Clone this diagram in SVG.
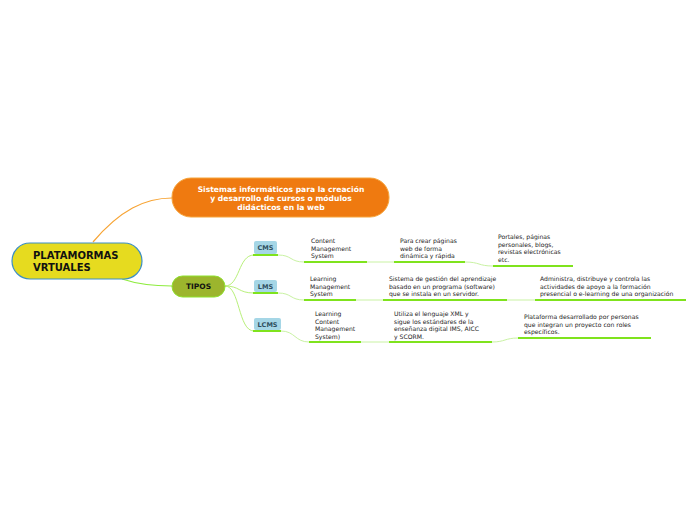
<svg xmlns="http://www.w3.org/2000/svg" width="696" height="520" viewBox="0 0 696 520">
<style>
.t{font-family:"DejaVu Sans",Verdana,sans-serif;font-size:6.1px;fill:#222}
.tb{font-family:"DejaVu Sans",Verdana,sans-serif;font-weight:bold}
.ul{stroke:#7fe31d;stroke-width:2;fill:none}
.ln{stroke:#c9f2a3;stroke-width:1;fill:none}
.br{stroke:#b8f07a;stroke-width:1;fill:none}
.sub{fill:#a5d6e6}
.subt{font-family:"DejaVu Sans",Verdana,sans-serif;font-weight:bold;font-size:6.5px;fill:#2f4f5f}
</style>
<rect width="696" height="520" fill="#fff"/>
<g id="connectors">
<path d="M93,242 C120,210 145,198 172,198" stroke="#f7a434" stroke-width="1.2" fill="none"/>
<path d="M122,279 C140,285 155,286 172,286" stroke="#8eec3e" stroke-width="1.2" fill="none"/>
<path class="br" d="M225,286 C240,286 238,255 254,255"/>
<path class="br" d="M225,286 C240,286 238,293 254,293"/>
<path class="br" d="M225,286 C240,286 238,331 254,331"/>
<path class="ln" d="M278,255 C292,255 290,262 304,262"/>
<path class="ln" d="M367,262 L394,262"/>
<path class="ln" d="M465,262 C480,262 478,266 493,266"/>
<path class="ln" d="M278,293 C292,293 290,300 304,300"/>
<path class="ln" d="M356,300 L383,300"/>
<path class="ln" d="M507,300 L535,300"/>
<path class="ln" d="M281,331 C295,331 295,342 309,342"/>
<path class="ln" d="M361,342 L389,342"/>
<path class="ln" d="M492,342 C505,342 505,338 518,338"/>
</g>
<g id="main">
<rect x="12" y="243" width="130" height="36" rx="18" fill="#e6db1f" stroke="#3d8fc6" stroke-width="1.2"/>
<text class="tb" font-size="10" fill="#111"><tspan x="33" y="259">PLATAMORMAS</tspan><tspan x="33" y="271">VRTUALES</tspan></text>
</g>
<g id="sistemas">
<rect x="172" y="178" width="217" height="39" rx="19" fill="#ef7a10" stroke="#f6a43a" stroke-width="1"/>
<text class="tb" font-size="7.6" fill="#fff" text-anchor="middle"><tspan x="281" y="192">Sistemas informáticos para la creación</tspan><tspan x="281" y="201">y desarrollo de cursos o módulos</tspan><tspan x="281" y="210">didácticos en la web</tspan></text>
</g>
<g id="tipos">
<rect x="172" y="276" width="53" height="21" rx="10.5" fill="#9cb52d" stroke="#8ee22c" stroke-width="1"/>
<text class="tb" font-size="7.5" fill="#111" text-anchor="middle" x="198.5" y="289">TIPOS</text>
</g>
<g id="cms">
<rect class="sub" x="254" y="241" width="23" height="13" rx="2"/>
<path class="ul" d="M253,255 L278,255"/>
<text class="subt" x="265.5" y="250" text-anchor="middle">CMS</text>
</g>
<g id="lms">
<rect class="sub" x="254" y="280" width="23" height="12" rx="2"/>
<path class="ul" d="M253,293 L278,293"/>
<text class="subt" x="265.5" y="289" text-anchor="middle">LMS</text>
</g>
<g id="lcms">
<rect class="sub" x="254" y="318" width="27" height="12" rx="2"/>
<path class="ul" d="M253,331 L281,331"/>
<text class="subt" x="267.5" y="327" text-anchor="middle">LCMS</text>
</g>
<g id="cms-def">
<text class="t"><tspan x="311" y="243">Content</tspan><tspan x="311" y="250.5">Management</tspan><tspan x="311" y="258">System</tspan></text>
<path class="ul" d="M304,262 L367,262"/>
</g>
<g id="cms-desc">
<text class="t"><tspan x="400" y="243">Para crear páginas</tspan><tspan x="400" y="250.5">web de forma</tspan><tspan x="400" y="258">dinámica y rápida</tspan></text>
<path class="ul" d="M394,262 L465,262"/>
</g>
<g id="cms-ex">
<text class="t"><tspan x="498" y="239">Portales, páginas</tspan><tspan x="498" y="246.5">personales, blogs,</tspan><tspan x="498" y="254">revistas electrónicas</tspan><tspan x="498" y="261.5">etc.</tspan></text>
<path class="ul" d="M493,266 L573,266"/>
</g>
<g id="lms-def">
<text class="t"><tspan x="310" y="281">Learning</tspan><tspan x="310" y="288.5">Management</tspan><tspan x="310" y="296">System</tspan></text>
<path class="ul" d="M304,300 L356,300"/>
</g>
<g id="lms-desc">
<text class="t"><tspan x="389" y="281">Sistema de gestión del aprendizaje</tspan><tspan x="389" y="288.5">basado en un programa (software)</tspan><tspan x="389" y="296">que se instala en un servidor.</tspan></text>
<path class="ul" d="M383,300 L507,300"/>
</g>
<g id="lms-ex">
<text class="t"><tspan x="540" y="281">Administra, distribuye y controla las</tspan><tspan x="540" y="288.5">actividades de apoyo a la formación</tspan><tspan x="540" y="296">presencial o e-learning de una organización</tspan></text>
<path class="ul" d="M535,300 L686,300"/>
</g>
<g id="lcms-def">
<text class="t"><tspan x="315" y="316">Learning</tspan><tspan x="315" y="323.5">Content</tspan><tspan x="315" y="331">Management</tspan><tspan x="315" y="338.5">System)</tspan></text>
<path class="ul" d="M309,342 L361,342"/>
</g>
<g id="lcms-desc">
<text class="t"><tspan x="394" y="316">Utiliza el lenguaje XML y</tspan><tspan x="394" y="323.5">sigue los estándares de la</tspan><tspan x="394" y="331">enseñanza digital IMS, AICC</tspan><tspan x="394" y="338.5">y SCORM.</tspan></text>
<path class="ul" d="M389,342 L492,342"/>
</g>
<g id="lcms-ex">
<text class="t"><tspan x="524" y="319">Plataforma desarrollado por personas</tspan><tspan x="524" y="326.5">que integran un proyecto con roles</tspan><tspan x="524" y="334">específicos.</tspan></text>
<path class="ul" d="M518,338 L651,338"/>
</g>
</svg>
